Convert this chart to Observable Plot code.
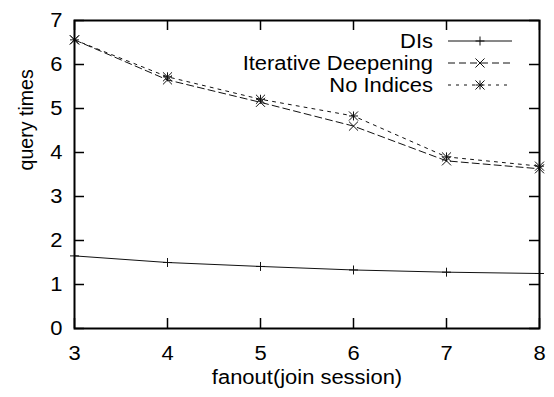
<!DOCTYPE html>
<html><head><meta charset="utf-8">
<script src="https://cdn.jsdelivr.net/npm/d3@7"></script>
<script src="https://cdn.jsdelivr.net/npm/@observablehq/plot@0.6"></script>
<style>
html,body{margin:0;padding:0;background:#fff;}
</style>
</head><body><div id="chart"></div>
<script>
const fanout = [3, 4, 5, 6, 7, 8];
const dis = [1.65, 1.50, 1.41, 1.33, 1.28, 1.25];
const iterativeDeepening = [6.56, 5.65, 5.14, 4.60, 3.81, 3.63];
const noIndices = [6.56, 5.72, 5.21, 4.83, 3.90, 3.69];
const seriesNames = ["DIs", "Iterative Deepening", "No Indices"];
const xTicks = [3, 4, 5, 6, 7, 8];
const yTicks = [0, 1, 2, 3, 4, 5, 6, 7];
const xLabel = "fanout(join session)";
const yLabel = "query times";

const W = 554, H = 397, mL = 74, mR = 15, mT = 20, mB = 69;
const fw = W - mL - mR, fh = H - mT - mB;
const font = "'Liberation Sans', Arial, Helvetica, sans-serif";
const fs = 19.6;
const stretch = 1.12;
const tick = 10;

const mk = (vals) => fanout.map((x, i) => ({x, y: vals[i]}));
const dData = mk(dis), idData = mk(iterativeDeepening), niData = mk(noIndices);

const styles = [
  {dash: null, symbols: ["plus"]},
  {dash: "7,4", symbols: ["times"]},
  {dash: "3,5", symbols: ["plus", "times"]}
];
const symR = {plus: 3.0, times: 4.2};
const datasets = [dData, idData, niData];

const marks = [];
datasets.forEach((data, k) => {
  marks.push(Plot.line(data, {x: "x", y: "y", stroke: "#111", strokeWidth: 1, strokeDasharray: styles[k].dash}));
});
datasets.forEach((data, k) => {
  styles[k].symbols.forEach(s => {
    marks.push(Plot.dot(data, {x: "x", y: "y", symbol: () => s, r: symR[s], stroke: "#111", strokeWidth: 1, fill: "none"}));
  });
});

const plot = Plot.plot({
  width: W, height: H,
  marginLeft: mL, marginRight: mR, marginTop: mT, marginBottom: mB,
  style: {fontFamily: font, fontSize: fs + "px", background: "white", color: "black", overflow: "visible"},
  x: {domain: [3, 8], ticks: xTicks},
  y: {domain: [0, 7], ticks: yTicks},
  symbol: {type: "identity"},
  marks: [
    Plot.tickX(xTicks, {x: d => d, insetTop: fh - tick, stroke: "black", strokeWidth: 1.5}),
    Plot.tickX(xTicks, {x: d => d, insetBottom: fh - tick, stroke: "black", strokeWidth: 1.5}),
    Plot.tickY(yTicks, {y: d => d, insetRight: fw - tick, stroke: "black", strokeWidth: 1.5}),
    Plot.tickY(yTicks, {y: d => d, insetLeft: fw - tick, stroke: "black", strokeWidth: 1.5}),
    ...marks,
    Plot.frame({stroke: "black", strokeWidth: 2}),
    Plot.axisX({ticks: xTicks, tickSize: 0, tickPadding: 18, label: null, fontSize: fs, tickFormat: d => String(d)}),
    Plot.axisY({ticks: yTicks, tickSize: 0, tickPadding: 12, label: null, fontSize: fs, tickFormat: d => String(d)}),
    Plot.text([xLabel], {text: d => d, frameAnchor: "bottom", dy: 55, fontSize: fs}),
    Plot.text([yLabel], {text: d => d, frameAnchor: "left", rotate: -90, dx: -48, dy: -4, fontSize: fs})
  ]
});

// legend
const svg = d3.select(plot);
const lg = svg.append("g").attr("font-family", font).attr("font-size", fs);
const rowY = [41, 63, 85];
seriesNames.forEach((name, k) => {
  const y = rowY[k];
  lg.append("text").attr("x", 433).attr("y", y).attr("dy", "0.36em").attr("text-anchor", "end").attr("fill", "black").text(name);
  lg.append("line").attr("x1", 448).attr("x2", 512).attr("y1", y).attr("y2", y)
    .attr("stroke", "#111").attr("stroke-width", 1).attr("stroke-dasharray", styles[k].dash);
  styles[k].symbols.forEach(s => {
    const sym = s === "plus" ? d3.symbolPlus : d3.symbolTimes;
    lg.append("path").attr("transform", `translate(480,${y})`)
      .attr("d", d3.symbol(sym, symR[s] * symR[s] * Math.PI)())
      .attr("fill", "none").attr("stroke", "#111").attr("stroke-width", 1);
  });
});

document.getElementById("chart").appendChild(plot);

// reference glyphs are horizontally wider: stretch non-rotated texts
plot.querySelectorAll("text").forEach(t => {
  const tr = t.getAttribute("transform") || "";
  if (tr.includes("rotate")) return;
  const L = t.getComputedTextLength();
  if (L > 0) {
    t.setAttribute("textLength", (L * stretch).toFixed(2));
    t.setAttribute("lengthAdjust", "spacingAndGlyphs");
  }
});
</script>
</body></html>
